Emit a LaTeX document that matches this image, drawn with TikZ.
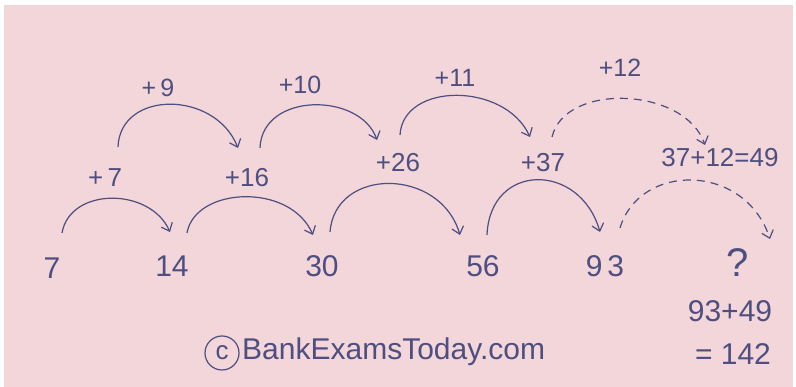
\documentclass[tikz,border=0pt]{standalone}
\usepackage{fontspec}
\setmainfont{Liberation Sans}
\usetikzlibrary{calc,arrows.meta}
\definecolor{paper}{HTML}{F2D6DA}
\definecolor{ink}{HTML}{4E4E80}
\begin{document}
\begin{tikzpicture}[x=1pt,y=1pt,
  num/.style={text=ink,inner sep=0pt,font=\fontsize{30}{32}\selectfont},
  mid/.style={text=ink,inner sep=0pt,font=\fontsize{26}{28}\selectfont},
  toplab/.style={text=ink,inner sep=0pt,font=\fontsize{25}{27}\selectfont},
  hop/.style={draw=ink,line width=1.2pt,-{Straight Barb[length=7pt,width=12pt]}},
  dhop/.style={hop,dash pattern=on 8pt off 6pt}]
\fill[white] (0,0) rectangle (796,387);
\fill[paper] (4,0) rectangle (793,382);
\useasboundingbox (0,0) rectangle (796,387);
% bottom row
\node[num] (n7) at (52,119) {7};
\node[num] (n14) at (172,121) {14};
\node[num] (n30) at (322,121) {30};
\node[num] (n56) at (483,121) {56};
\node[num] (n93) at (605,121) {9\,3};
\node[text=ink,inner sep=0pt,font=\fontsize{40}{42}\selectfont] (q) at (738,124) {?};
\node[num] (s1) at (730,76) {93+49};
\node[num] (s2) at (733,33) {= 142};
% middle row
\node[mid] (p7) at (105,209) {+\,7};
\node[mid] (p16) at (247,209) {+16};
\node[mid] (p26) at (398,224) {+26};
\node[mid] (p37) at (543,224) {+37};
\node[mid] (r49) at (720,229) {37+12=49};
% top row
\node[toplab] (p9) at (158,299) {+\,9};
\node[toplab] (p10) at (300,302) {+10};
\node[toplab] (p11) at (455,309) {+11};
\node[toplab] (p12) at (620,319) {+12};
% watermark
\node[draw=ink,line width=1.2pt,circle,minimum size=34pt,inner sep=0pt,text=ink,font=\fontsize{26}{28}\selectfont] (cc) at (222,34) {c};
\node[text=ink,inner sep=0pt,anchor=west,font=\fontsize{30}{32}\selectfont] (wm) at (242,35) {BankExamsToday.com};
% bottom arcs
\draw[hop] ($(n7)+(10,35)$) .. controls +(8,46) and +(-20,45) .. ($(n14)+(-2,34)$);
\draw[hop] ($(n14)+(15,33)$) .. controls +(8,46) and +(-23,53) .. ($(n30)+(-9,31)$);
\draw[hop] ($(n30)+(8,34)$) .. controls +(5,65) and +(-20,68) .. ($(n56)+(-23,31)$);
\draw[hop] ($(n56)+(4,31)$) .. controls +(3,73) and +(-20,70) .. ($(n93)+(-5,34)$);
\draw[dhop] ($(n93)+(15,38)$) .. controls +(20,66) and +(-25,76) .. ($(q)+(32,24)$);
% top arcs
\draw[hop] ($(p7)+(13,31)$) .. controls +(2,57) and +(-23,58) .. ($(p16)+(-9,30)$);
\draw[hop] ($(p16)+(13,30)$) .. controls +(2,56) and +(-17,48) .. ($(p26)+(-21,23)$);
\draw[hop] ($(p26)+(2,28)$) .. controls +(3,53) and +(-25,55) .. ($(p37)+(-13,26)$);
\draw[dhop] ($(p37)+(9,26)$) .. controls +(13,55) and +(-20,58) .. ($(r49)+(-15,13)$);
\end{tikzpicture}
\end{document}
